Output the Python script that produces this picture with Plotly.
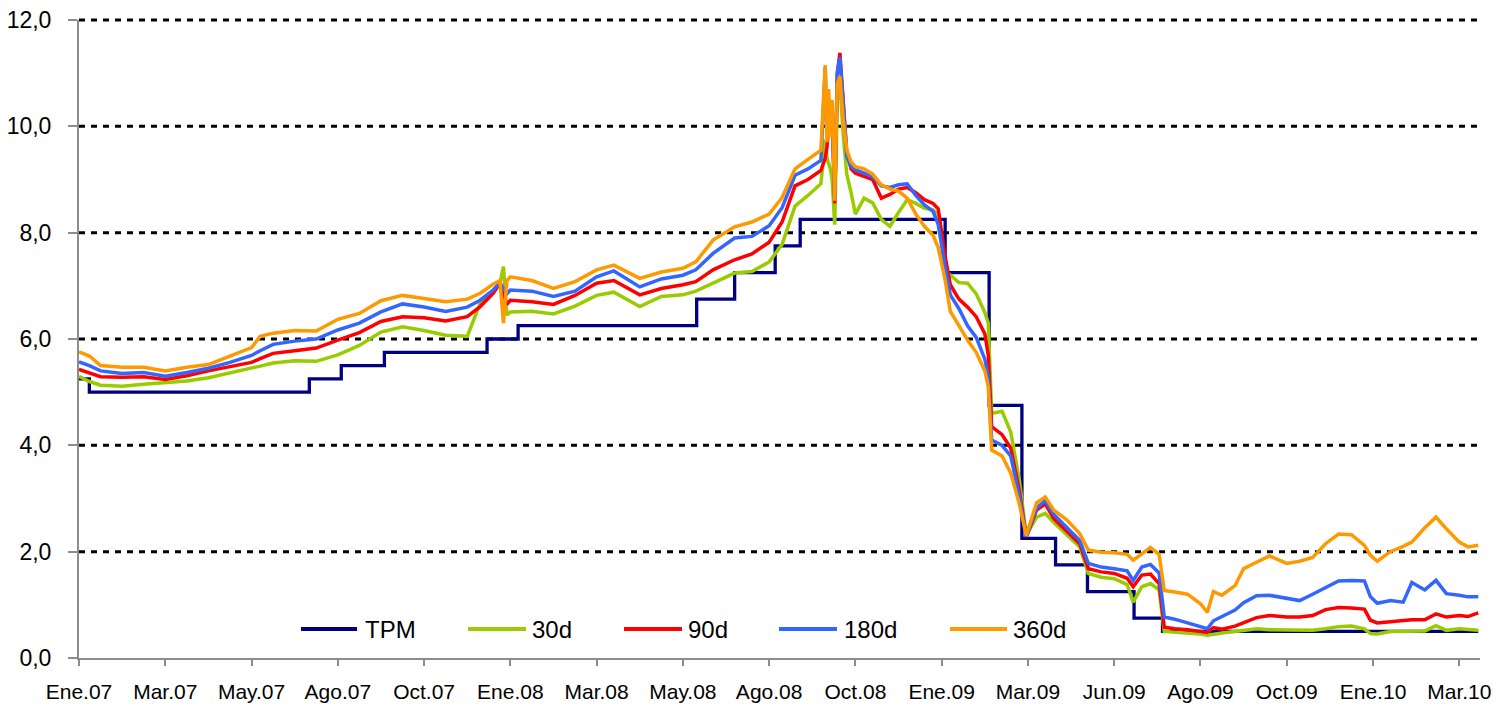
import plotly.graph_objects as go

# ---------------- data ----------------
# x positions are expressed in units of the category-axis label interval
tick_labels = ["Ene.07", "Mar.07", "May.07", "Ago.07", "Oct.07", "Ene.08", "Mar.08",
               "May.08", "Ago.08", "Oct.08", "Ene.09", "Mar.09", "Jun.09", "Ago.09",
               "Oct.09", "Ene.10", "Mar.10"]

pos = [0, 0.12, 0.25, 0.5, 0.75, 1.0, 1.25, 1.5, 1.75, 2.0,
       2.1, 2.25, 2.5, 2.75, 3.0, 3.25, 3.5, 3.75, 4.0, 4.25,
       4.5, 4.65, 4.8, 4.88, 4.92, 4.96, 5.0, 5.25, 5.5, 5.75,
       6.0, 6.2, 6.5, 6.75, 7.0, 7.15, 7.35, 7.6, 7.8, 8.0,
       8.15, 8.3, 8.45, 8.6, 8.65, 8.67, 8.69, 8.71, 8.73, 8.76,
       8.79, 8.82, 8.86, 8.9, 8.95, 9.0, 9.1, 9.2, 9.3, 9.4,
       9.5, 9.6, 9.7, 9.8, 9.9, 9.96, 10.04, 10.1, 10.2, 10.3,
       10.4, 10.5, 10.54, 10.58, 10.7, 10.8, 10.9, 10.98, 11.1, 11.2,
       11.3, 11.45, 11.6, 11.7, 11.85, 12.0, 12.15, 12.22, 12.32, 12.42,
       12.52, 12.58, 12.7, 12.85, 13.0, 13.08, 13.15, 13.25, 13.4, 13.5,
       13.65, 13.8, 14.0, 14.15, 14.3, 14.45, 14.6, 14.75, 14.9, 14.97,
       15.05, 15.2, 15.35, 15.45, 15.6, 15.73, 15.85, 16.0, 16.1, 16.22]

s360 = [5.76, 5.68, 5.50, 5.47, 5.47, 5.40, 5.47, 5.52, 5.68, 5.84,
        6.05, 6.11, 6.16, 6.15, 6.37, 6.48, 6.72, 6.82, 6.76, 6.70,
        6.75, 6.86, 7.03, 7.10, 6.30, 7.10, 7.17, 7.10, 6.95, 7.08,
        7.30, 7.39, 7.14, 7.26, 7.33, 7.45, 7.86, 8.11, 8.20, 8.35,
        8.66, 9.20, 9.38, 9.55, 11.15, 9.70, 10.70, 9.80, 10.50, 8.60,
        10.80, 10.94, 10.10, 9.55, 9.33, 9.24, 9.20, 9.10, 8.90, 8.82,
        8.78, 8.65, 8.35, 8.12, 7.95, 7.72, 7.11, 6.52, 6.25, 5.98,
        5.75, 5.40, 5.10, 3.91, 3.80, 3.48, 2.90, 2.30, 2.92, 3.03,
        2.78, 2.60, 2.34, 2.03, 1.99, 1.98, 1.95, 1.84, 1.96, 2.08,
        1.95, 1.27, 1.24, 1.20, 1.02, 0.86, 1.25, 1.18, 1.36, 1.68,
        1.80, 1.92, 1.78, 1.82, 1.89, 2.15, 2.33, 2.32, 2.12, 1.93,
        1.82, 2.00, 2.10, 2.18, 2.45, 2.65, 2.43, 2.18, 2.09, 2.12]

s180 = [5.57, 5.50, 5.40, 5.35, 5.37, 5.30, 5.37, 5.45, 5.56, 5.69,
        5.78, 5.90, 5.96, 6.00, 6.17, 6.30, 6.51, 6.66, 6.60, 6.52,
        6.60, 6.73, 6.92, 7.06, 6.95, 6.85, 6.92, 6.90, 6.80, 6.90,
        7.17, 7.28, 6.98, 7.13, 7.20, 7.30, 7.61, 7.90, 7.93, 8.13,
        8.47, 9.08, 9.20, 9.36, 11.10, 9.90, 10.20, 10.40, 10.30, 8.62,
        11.00, 11.30, 10.40, 9.43, 9.25, 9.18, 9.12, 9.05, 8.88, 8.85,
        8.90, 8.92, 8.70, 8.52, 8.40, 8.15, 7.36, 6.83, 6.57, 6.25,
        6.03, 5.62, 5.30, 4.10, 4.00, 3.80, 3.05, 2.28, 2.82, 2.96,
        2.70, 2.45, 2.21, 1.78, 1.71, 1.68, 1.64, 1.46, 1.71, 1.76,
        1.60, 0.77, 0.73, 0.66, 0.59, 0.55, 0.70, 0.78, 0.90, 1.04,
        1.17, 1.18, 1.12, 1.08, 1.20, 1.33, 1.45, 1.46, 1.45, 1.15,
        1.03, 1.08, 1.05, 1.42, 1.28, 1.46, 1.21, 1.18, 1.15, 1.15]

s90 = [5.43, 5.36, 5.29, 5.28, 5.29, 5.24, 5.31, 5.40, 5.48, 5.56,
       5.63, 5.73, 5.78, 5.83, 5.98, 6.12, 6.33, 6.42, 6.40, 6.34,
       6.42, 6.61, 6.86, 7.05, 6.85, 6.65, 6.73, 6.70, 6.65, 6.82,
       7.05, 7.10, 6.83, 6.95, 7.02, 7.08, 7.30, 7.49, 7.60, 7.82,
       8.20, 8.88, 9.00, 9.17, 9.40, 9.60, 10.00, 10.10, 10.20, 8.55,
       11.00, 11.38, 10.50, 9.50, 9.20, 9.12, 9.06, 9.00, 8.65, 8.72,
       8.82, 8.85, 8.75, 8.62, 8.55, 8.45, 7.55, 7.02, 6.75, 6.60,
       6.42, 6.10, 5.70, 4.35, 4.20, 3.95, 3.15, 2.28, 2.78, 2.90,
       2.62, 2.38, 2.15, 1.68, 1.62, 1.59, 1.50, 1.34, 1.56, 1.58,
       1.40, 0.58, 0.55, 0.53, 0.50, 0.48, 0.57, 0.54, 0.60, 0.67,
       0.76, 0.80, 0.77, 0.77, 0.80, 0.91, 0.95, 0.94, 0.92, 0.71,
       0.66, 0.68, 0.70, 0.72, 0.72, 0.83, 0.77, 0.80, 0.78, 0.85]

s30 = [5.30, 5.20, 5.13, 5.11, 5.15, 5.18, 5.21, 5.27, 5.36, 5.44,
       5.49, 5.55, 5.59, 5.58, 5.70, 5.88, 6.13, 6.23, 6.16, 6.07,
       6.05, 6.67, 6.92, 7.05, 7.36, 6.45, 6.51, 6.52, 6.47, 6.62,
       6.82, 6.88, 6.61, 6.80, 6.83, 6.90, 7.05, 7.24, 7.27, 7.45,
       7.78, 8.50, 8.70, 8.92, 9.75, 9.40, 9.30, 9.20, 9.00, 8.15,
       10.50, 10.81, 9.80, 9.10, 8.75, 8.35, 8.65, 8.56, 8.25, 8.12,
       8.38, 8.62, 8.55, 8.46, 8.43, 8.35, 7.30, 7.20, 7.06, 7.05,
       6.85, 6.50, 6.30, 4.60, 4.64, 4.25, 3.35, 2.30, 2.65, 2.72,
       2.55, 2.32, 2.09, 1.59, 1.52, 1.49, 1.38, 1.05, 1.34, 1.40,
       1.28, 0.50, 0.49, 0.47, 0.45, 0.43, 0.45, 0.47, 0.50, 0.52,
       0.55, 0.53, 0.52, 0.52, 0.52, 0.55, 0.59, 0.60, 0.55, 0.46,
       0.45, 0.50, 0.50, 0.50, 0.51, 0.61, 0.52, 0.55, 0.53, 0.52]

# monetary policy rate (step series)
tpm_pos = [0, 0.12, 2.67, 3.04, 3.54, 4.73, 5.09, 7.16, 7.60, 8.07,
           8.36, 10.04, 10.55, 10.93, 11.32, 11.69, 12.23, 12.56, 16.22]
tpm = [5.25, 5.00, 5.25, 5.50, 5.75, 6.00, 6.25, 6.75, 7.25, 7.75,
       8.25, 7.25, 4.75, 2.25, 1.75, 1.25, 0.75, 0.50, 0.50]

series_names = ["TPM", "30d", "90d", "180d", "360d"]
series_colors = ["#000080", "#99CC00", "#FF0000", "#3366FF", "#FF9900"]

y_ticks = [0, 2, 4, 6, 8, 10, 12]
y_tick_text = ["0,0", "2,0", "4,0", "6,0", "8,0", "10,0", "12,0"]

for s in (s360, s180, s90, s30):
    assert len(s) == len(pos)

# ---------------- figure ----------------
# the page body adds an 8px margin at top/left, so the figure is shifted by that amount
BODY = 8
W, H = 1501 - BODY, 709 - BODY
ML, MR, MT, MB = 79 - BODY, 21, 20 - BODY, 51
FONT = "Arial, Liberation Sans, sans-serif"

fig = go.Figure()
fig.add_trace(go.Scatter(x=tpm_pos, y=tpm, mode="lines", name=series_names[0],
                         line=dict(color=series_colors[0], width=3.3, shape="hv"),
                         showlegend=False))
for name, col, ys in zip(series_names[1:], series_colors[1:], [s30, s90, s180, s360]):
    fig.add_trace(go.Scatter(x=pos, y=ys, mode="lines", name=name,
                             line=dict(color=col, width=3.5), showlegend=False))

# dotted horizontal gridlines (paper-referenced so the top one is not clipped)
shapes = []
for v in y_ticks[1:]:
    shapes.append(dict(type="line", xref="paper", yref="paper", x0=0, x1=1,
                       y0=v / y_ticks[-1], y1=v / y_ticks[-1],
                       line=dict(color="black", width=3, dash="6px,6px"), layer="below"))

# custom legend (line sample + label) along the bottom of the plot
pw = W - ML - MR
ph = H - MT - MB
leg_y_px = 629 - BODY
leg_items = [(301, 357, 363), (468, 526, 530), (624, 682, 686), (779, 837, 842), (950, 1007, 1011)]
annotations = []
ly = (H - MB - leg_y_px) / ph
for (x0, x1, xt), name, col in zip(leg_items, series_names, series_colors):
    shapes.append(dict(type="line", xref="paper", yref="paper",
                       x0=(x0 - BODY - ML) / pw, x1=(x1 - BODY - ML) / pw, y0=ly, y1=ly,
                       line=dict(color=col, width=4)))
    annotations.append(dict(xref="paper", yref="paper", x=(xt - BODY - ML) / pw, y=ly,
                            text=name, showarrow=False, xanchor="left", yanchor="middle",
                            font=dict(family=FONT, size=24, color="black")))

fig.update_layout(
    width=W, height=H,
    margin=dict(l=ML, r=MR, t=MT, b=MB, autoexpand=False),
    paper_bgcolor="white", plot_bgcolor="white",
    shapes=shapes, annotations=annotations,
    showlegend=False,
    xaxis=dict(range=[0, 16.24], tickvals=list(range(len(tick_labels))), ticktext=tick_labels,
               showgrid=False, zeroline=False, showline=True, linecolor="#8C8C8C", linewidth=2,
               ticks="outside", ticklen=6, tickwidth=2, tickcolor="#8C8C8C",
               tickfont=dict(family=FONT, size=21, color="black"), ticklabelstandoff=8,
               ticklabeloverflow="allow", automargin=False),
    yaxis=dict(range=[0, 12], tickvals=y_ticks, ticktext=y_tick_text,
               showgrid=False, zeroline=False, showline=True, linecolor="#8C8C8C", linewidth=2,
               ticks="outside", ticklen=9, tickwidth=2, tickcolor="#8C8C8C",
               tickfont=dict(family=FONT, size=23, color="black"), ticklabelstandoff=12,
               ticklabeloverflow="allow", automargin=False),
)

fig.write_html("out.html")
